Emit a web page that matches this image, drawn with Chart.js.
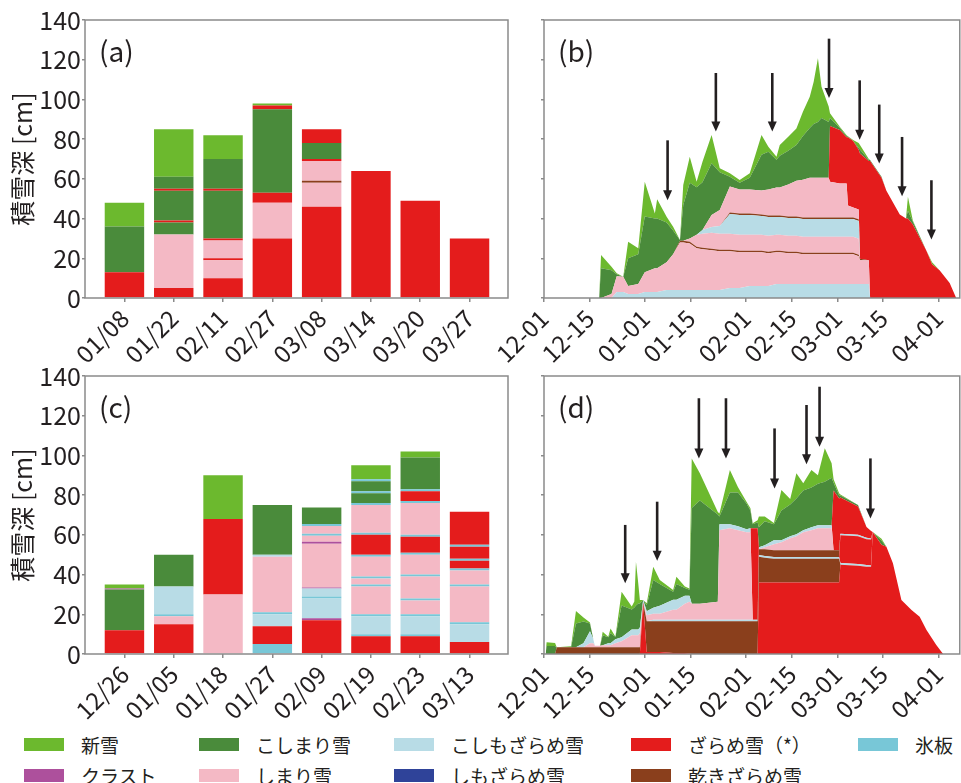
<!DOCTYPE html>
<html>
<head>
<meta charset="utf-8">
<script src="https://cdn.jsdelivr.net/npm/chart.js@4.4.1/dist/chart.umd.min.js"></script>
<style>
  body { margin: 0; background: #fff; width: 961px; height: 783px; position: relative; overflow: hidden;
         font-family: 'Noto Sans CJK JP', sans-serif; color: #231f20; }
  canvas { position: absolute; }
  .lg-item { position: absolute; height: 13px; display: flex; align-items: center; white-space: nowrap; }
  .lg-sw { width: 40px; height: 13px; margin-right: 17px; }
  .lg-tx { font-size: 19px; line-height: 13px; }
</style>
</head>
<body>
<canvas id="chartA" width="520" height="370" style="left:0;top:0"></canvas>
<canvas id="chartB" width="521" height="370" style="left:440px;top:0"></canvas>
<canvas id="chartC" width="520" height="370" style="left:0;top:356px"></canvas>
<canvas id="chartD" width="521" height="370" style="left:440px;top:356px"></canvas>
<div id="legend"></div>
<script>
// ── snow grain types ──
const COLORS = {
  SN: '#6cb92e', KS: '#4a8b3b', KZ: '#b8dce6', ZA: '#e41c1c', IC: '#78c7d7',
  CR: '#ad509c', SH: '#f4b9c5', SZ: '#2f4399', DZ: '#8a3f1c',
};
const TYPE_NAMES = {
  SN: '新雪', KS: 'こしまり雪', KZ: 'こしもざらめ雪', ZA: 'ざらめ雪（*）', IC: '氷板',
  CR: 'クラスト', SH: 'しまり雪', SZ: 'しもざらめ雪', DZ: '乾きざらめ雪',
};
const legendRow1 = ['SN', 'KS', 'KZ', 'ZA', 'IC'];
const legendRow2 = ['CR', 'SH', 'SZ', 'DZ'];

// ── (a) pit profiles, bottom to top: [type, thickness cm] ──
const datesA = ['01/08', '01/22', '02/11', '02/27', '03/08', '03/14', '03/20', '03/27'];
const profA0108 = [['ZA', 13], ['KS', 23], ['SN', 12]];
const profA0122 = [['ZA', 5], ['SH', 27], ['KS', 6], ['ZA', 1], ['KS', 15], ['ZA', 1], ['KS', 6], ['SN', 24]];
const profA0211 = [['ZA', 10], ['SH', 9], ['ZA', 1], ['SH', 9], ['ZA', 1], ['KS', 24], ['ZA', 1], ['KS', 15], ['SN', 12]];
const profA0227 = [['ZA', 30], ['SH', 18], ['ZA', 5], ['KS', 42], ['ZA', 2], ['SN', 1]];
const profA0308 = [['ZA', 46], ['SH', 12], ['DZ', 1], ['SH', 10], ['ZA', 1], ['KS', 8], ['ZA', 7]];
const profA0314 = [['ZA', 64]];
const profA0320 = [['ZA', 49]];
const profA0327 = [['ZA', 30]];

// ── (c) pit profiles ──
const datesC = ['12/26', '01/05', '01/18', '01/27', '02/09', '02/19', '02/23', '03/13'];
const profC1226 = [['ZA', 12], ['KS', 20.5], ['CR', 0.5], ['SN', 2]];
const profC0105 = [['ZA', 15], ['SH', 4], ['IC', 1], ['KZ', 14], ['KS', 16]];
const profC0118 = [['SH', 30], ['ZA', 38], ['SN', 22]];
const profC0127 = [['IC', 5], ['ZA', 9], ['KZ', 6], ['IC', 1], ['SH', 28], ['KZ', 1], ['KS', 25]];
const profC0209 = [['ZA', 17], ['CR', 1], ['KZ', 10], ['IC', 1], ['KZ', 4], ['CR', 0.5], ['SH', 22], ['CR', 1],
  ['SH', 3], ['IC', 1], ['SH', 4], ['IC', 1], ['KS', 8.3]];
const profC0219 = [['ZA', 9], ['IC', 1], ['KZ', 9], ['IC', 1], ['SH', 14], ['IC', 1], ['SH', 3], ['IC', 1],
  ['SH', 10], ['IC', 1], ['ZA', 10], ['IC', 1], ['SH', 14], ['IC', 1], ['KS', 5], ['IC', 1], ['KS', 5], ['IC', 1], ['SN', 7]];
const profC0223 = [['ZA', 9], ['IC', 1], ['KZ', 9], ['IC', 1], ['SH', 7], ['IC', 1], ['SH', 11], ['IC', 1],
  ['SH', 10], ['IC', 1], ['ZA', 8], ['IC', 1], ['SH', 16], ['IC', 1], ['ZA', 5], ['IC', 1], ['KS', 16], ['SN', 3]];
const profC0313 = [['ZA', 6], ['KZ', 9], ['IC', 1], ['SH', 18], ['IC', 1], ['SH', 7], ['IC', 1], ['ZA', 4],
  ['IC', 1], ['ZA', 6], ['IC', 1], ['ZA', 16.6]];

// ── (b) simulated layer thickness [cm], days since 12-01 ──
const daysB = [16.9, 17.5, 20.7, 22.3, 24.3, 25.8, 28.9, 30.9, 34.0, 34.7,
  37.6, 39.6, 41.7, 42.7, 44.7, 46.8, 48.6, 51.4, 53.9, 57.0,
  60.0, 63.1, 66.7, 68.8, 71.3, 72.3, 74.9, 77.4, 79.4, 81.5,
  82.7, 84.0, 85.1, 87.3, 87.7, 90.7, 92.8, 93.2, 94.8, 96.5,
  96.9, 99.6, 100.0, 103.5, 105.0, 109.1, 111.0, 111.6, 113.1, 117.2,
  119.0, 121.3, 124.4, 126.4];
const bKz1 = [0, 0, 0, 3, 3, 2, 2, 3, 3, 3, 4, 4, 4, 4, 4, 4, 4, 4, 4, 5, 5, 6, 6, 6, 7, 7, 7, 7, 7, 7,
  7, 7, 7, 7, 7, 7, 7, 7, 7, 7, 7, 7, 0, 0, 0, 0, 0, 0, 0, 0, 0, 0, 0, 0];
const bSh1 = [0, 0, 2, 8, 7.7, 4, 5, 10, 12, 12, 14, 18, 24, 24, 23.5, 21, 20.5, 20, 19.5, 18.5,
  18, 17, 17, 16.5, 16, 16, 15.5, 15.5, 15, 15, 15, 15, 15, 15, 15, 15, 15, 15, 15, 14,
  12, 12, 0, 0, 0, 0, 0, 0, 0, 0, 0, 0, 0, 0];
const bDz1 = [0, 0, 0, 0, 0, 0, 0, 0, 0, 0, 0, 0, 0.8, 0.8, 0.8, 0.8, 0.8, 0.8, 0.8, 0.8,
  0.8, 0.8, 0.8, 0.8, 0.8, 0.8, 0.8, 0.8, 0.8, 0.8, 0.8, 0.8, 0.8, 0.8, 0.8, 0.8, 0.8, 0.8, 0.8, 0.8,
  0.8, 0, 0, 0, 0, 0, 0, 0, 0, 0, 0, 0, 0, 0];
const bSh2 = [0, 0, 0, 0, 0, 0, 0, 0, 0, 0, 0, 0, 0, 0, 1.7, 6, 7, 8, 8, 8,
  8, 8, 8, 8, 8, 8, 8, 8, 8, 8, 8, 8, 8, 8, 8, 8, 8, 8, 8, 8,
  0, 0, 0, 0, 0, 0, 0, 0, 0, 0, 0, 0, 0, 0];
const bKz2 = [0, 0, 0, 0, 0, 0, 0, 0, 0, 0, 0, 0, 0, 0, 0, 0, 2, 3, 4, 10,
  10, 10, 9.5, 9.5, 9, 9, 9, 9, 9, 9, 9, 9, 9, 9, 9, 9, 9, 9, 9, 9,
  0, 0, 0, 0, 0, 0, 0, 0, 0, 0, 0, 0, 0, 0];
const bDz2 = [0, 0, 0, 0, 0, 0, 0, 0, 0, 0, 0, 0, 0, 0, 0, 0, 0, 0, 0, 0.8,
  0.8, 0.8, 0.8, 0.8, 0.8, 0.8, 0.8, 0.8, 0.8, 0.8, 0.8, 0.8, 0.8, 0.8, 0.8, 0.8, 0.8, 0.8, 0.8, 0.8,
  0, 0, 0, 0, 0, 0, 0, 0, 0, 0, 0, 0, 0, 0];
const bSh3 = [0, 0, 0, 0, 0, 0, 0, 0, 0, 0, 0, 0, 0, 0, 0, 0, 0, 6, 8, 13,
  12, 12, 12, 13, 14, 14, 16, 18, 19, 20, 20, 20, 20, 20, 18, 17, 17, 6, 5, 5,
  0, 0, 0, 0, 0, 0, 0, 0, 0, 0, 0, 0, 0, 0];
const bZa = [0, 0, 0, 0, 0, 0, 0, 0, 0, 0, 0, 0, 0, 0, 0, 0, 0, 0, 0, 0,
  0, 0, 0, 0, 0, 0, 0, 0, 0, 0, 0, 0, 0, 0, 28, 27, 23.4, 34.4, 33.5, 30,
  53, 50, 69, 60.5, 54, 42, 40, 40, 37, 24, 17, 14, 7.5, 0];
const bKs = [0, 15, 12, 1, 0, 14, 15, 28, 25, 25, 20, 12, 0.4, 18, 28, 24, 24, 26, 19, 5,
  3.5, 6, 18, 19, 14, 16, 17, 18, 22, 25, 27, 28, 30, 28, 4, 1, 0.5, 0.3, 0, 1,
  2, 0.5, 0.5, 0.5, 0, 0, 0, 4, 1.5, 0, 0, 0, 0, 0];
const bSn = [0, 6.6, 1.8, 0.5, 0, 8.3, 3, 17.6, 2.6, 9.7, 2.9, 1.9, 0, 10.1, 13.1, 2.8, 10.3, 14.3, 2, 1.7,
  1.3, 2.2, 10, 2.6, 1.5, 5.4, 7.1, 8.3, 12.2, 15.8, 21.3, 32.1, 15.8, 7.8, 2.4, 0.7, 0.5, 0.2, 0.5, 2.4,
  2.2, 0.5, 0, 0, 0, 0, 0, 7, 0.5, 0, 1, 0, 0, 0];
const bandsB = [['KZ', bKz1], ['SH', bSh1], ['DZ', bDz1], ['SH', bSh2], ['KZ', bKz2], ['DZ', bDz2],
  ['SH', bSh3], ['ZA', bZa], ['KS', bKs], ['SN', bSn]];
const arrowDaysB = [37.9, 52.7, 70.0, 87.4, 96.8, 102.8, 109.8, 118.8];
const arrowTopB = [79.4, 113.3, 113.3, 130.6, 109.6, 97.4, 81.1, 59.3];
const arrowTipB = [49.2, 83.9, 83.9, 100.7, 79.7, 67.7, 51.2, 29.4];

// ── (d) simulated layer thickness [cm] ──
const daysD = [0.5, 0.8, 3.4, 3.9, 8.3, 9.8, 12.1, 14.1, 15.1, 15.6,
  17.2, 18.0, 19.7, 20.4, 21.9, 23.8, 26.9, 27.7, 28.2, 28.9,
  29.4, 30.4, 31.5, 33.5, 35.5, 39.6, 40.6, 43.2, 44.6, 45.3,
  47.8, 53.3, 53.8, 57.0, 59.5, 62.1, 63.3, 64.0, 65.5, 65.9,
  67.7, 70.5, 72.8, 75.5, 77.4, 79.5, 82.0, 84.0, 86.1, 88.2,
  88.8, 90.5, 90.9, 96.3, 98.9, 100.3, 100.8, 103.5, 105.0, 107.0,
  109.6, 112.7, 115.2, 117.3, 120.3, 122.4];
const dZa1 = [0, 0, 0, 0, 0, 0, 0, 0, 0, 0, 0, 0, 0, 0, 0, 0, 0, 0, 0, 0,
  0, 26, 1, 1, 1, 0.5, 0.5, 0.5, 0.3, 0, 0, 0, 0, 0, 0, 0, 0, 0, 0, 36,
  36, 36, 36, 36, 36, 36, 36, 36, 36, 36, 36, 36, 45, 44.5, 44, 44, 61.5, 55, 54, 45.7,
  27.2, 22.2, 18.8, 12.1, 4.5, 0];
const dDz1 = [0, 0, 0, 3.4, 3.4, 3.4, 3.4, 3.4, 3.4, 3.4, 3.4, 3.4, 3.4, 3.4, 3.4, 3.4, 3.4, 3.4, 3.4, 3.4,
  3.4, 0, 15.5, 15.5, 15.5, 16, 16, 16, 16.2, 16.5, 16.5, 16.5, 16.5, 16.5, 16.5, 16.5, 16.5, 16.5, 16.5, 13,
  12.5, 12, 12, 12, 12, 12, 12, 12, 12, 12, 12, 12, 0, 0, 0, 0, 0, 0, 0, 0,
  0, 0, 0, 0, 0, 0];
const dKz1 = [0, 0, 0, 0, 0, 0, 0, 0, 0, 0, 0, 0, 0, 0, 0, 0, 0, 0, 0, 0,
  0, 0, 0, 0.8, 0.8, 0.8, 0.8, 0.8, 0.8, 0.8, 0.8, 0.8, 0.8, 0.8, 0.8, 0.8, 0.8, 0.8, 0.8, 0.8,
  0.8, 0.8, 0.8, 0.8, 0.8, 0.8, 0.8, 0.8, 0.8, 0.8, 0.8, 0.8, 0.8, 0.8, 0.8, 0.6, 0, 0, 0, 0,
  0, 0, 0, 0, 0, 0];
const dZa3 = [0, 0, 0, 0, 0, 0, 0, 0, 0, 0, 0, 0, 0, 0, 0, 0, 0, 0, 0, 0,
  0, 0, 0, 0, 0, 0, 0, 0, 0, 0, 0, 0, 0, 0, 0, 0, 0, 0, 0, 0,
  0, 0, 0, 0, 0, 0, 0, 0, 0, 0, 0, 0, 14, 14, 13, 13, 0, 0, 0, 0,
  0, 0, 0, 0, 0, 0];
const dDz2 = [0, 0, 0, 0, 0, 0, 0, 0, 0, 0, 0, 0, 0, 0, 0, 0, 0, 0, 0, 0,
  0, 0, 0, 0, 0, 0, 0, 0, 0, 0, 0, 0, 0, 0, 0, 0, 0, 0, 0, 3,
  3.5, 3.5, 3.5, 3.5, 3.5, 3.5, 3.5, 3.5, 3.5, 3.5, 3.5, 3.5, 0, 0, 0, 0, 0, 0, 0, 0,
  0, 0, 0, 0, 0, 0];
const dSh1 = [0, 0, 0, 0, 0, 0, 0, 2, 2, 0.8, 0.8, 1, 1, 1, 2, 3, 6, 6, 6, 6,
  7, 0, 3, 3, 3, 5, 5, 8, 9, 8, 8, 9, 45, 46, 45, 44, 44, 0, 0, 0,
  1, 3, 4, 6, 7, 9, 10, 11, 11, 11, 0, 0, 0, 0, 0, 0, 0, 0, 0, 0,
  0, 0, 0, 0, 0, 0];
const dKz2 = [0, 0, 0, 0, 0, 0, 2, 6, 2.1, 0, 0, 0, 1, 1, 2, 2, 3, 3, 3, 3,
  3, 1.2, 2, 3, 4, 5, 5, 4, 3, 0, 0, 0, 3, 2, 2, 1.5, 2, 0, 0, 1,
  1, 2, 1, 1, 1, 1, 1.5, 1.5, 1.5, 1.5, 0, 0, 0.8, 0.8, 0.8, 0.6, 0, 0, 0, 0,
  0, 0, 0, 0, 0, 0];
const dZa2 = [0, 0, 0, 0, 0, 0, 0, 0, 0, 0, 0, 0, 0, 0, 0, 0, 0, 0, 0, 0,
  0, 0, 0, 0, 0, 0, 0, 0, 0, 0, 0, 0, 0, 0, 0, 0, 0, 46, 46, 0,
  0, 0, 0, 0, 0, 0, 0, 0, 0, 0, 30, 26, 18.2, 14.2, 5.4, 3.8, 0, 0, 0, 0,
  0, 0, 0, 0, 0, 0];
const dKs = [0, 4, 4, 0, 0, 12, 11, 4, 0, 0, 0, 5, 3, 5, 1.3, 16, 10, 11, 12, 13,
  12, 0, 3, 14, 11, 4, 8, 4, 3, 48.2, 52, 44, 4, 16, 17, 13, 9, 2, 3, 10,
  12, 8, 15, 16, 18, 20, 20, 21, 22, 24, 4, 1.5, 1, 0.7, 0, 0, 0, 2, 0, 0,
  0, 0, 0, 0, 0, 0];
const dSn = [0, 1.9, 1.5, 0, 0.5, 6.3, 2, 0.5, 0, 0, 0, 1.8, 0.3, 2.5, 0, 7, 1.5, 3, 22.1, 10.2,
  1.8, 0, 1, 6.7, 2, 0.9, 3.6, 0.7, 0.7, 25, 13.7, 1.2, 1.5, 11.4, 2.7, 0.9, 1.1, 0.5, 1, 5.4,
  2.4, 0.7, 10.3, 2.7, 12.7, 3.7, 8.9, 4.2, 16.8, 7.2, 1.7, 1.2, 0.5, 0, 0, 0, 0, 1, 0, 0,
  0, 0, 0, 0, 0, 0];
const bandsD = [['ZA', dZa1], ['DZ', dDz1], ['KZ', dKz1], ['ZA', dZa3], ['DZ', dDz2], ['SH', dSh1],
  ['KZ', dKz2], ['ZA', dZa2], ['KS', dKs], ['SN', dSn]];
const arrowDaysD = [24.9, 34.7, 47.5, 55.8, 70.7, 80.5, 84.5, 100.1];
const arrowTopD = [65, 76.7, 128.8, 128.8, 113.6, 125.4, 134.6, 98.5];
const arrowTipD = [35.6, 47, 98.5, 98.5, 83.4, 95.5, 104.4, 68.3];

const tickDays = [0, 14, 31, 45, 62, 76, 90, 104, 121];
const tickDayLabels = ['12-01', '12-15', '01-01', '01-15', '02-01', '02-15', '03-01', '03-15', '04-01'];

// ──────────────────────────────────────────────
const TEXT = '#231f20';
const AXIS = '#8a8a8a';
Chart.defaults.font.family = "'Noto Sans CJK JP', 'Noto Sans', sans-serif";
Chart.defaults.color = TEXT;

const panelDecor = {
  id: 'panelDecor',
  afterDatasetsDraw(chart, args, opts) {
    if (!opts.arrowDays) return;
    const { ctx, scales } = chart;
    ctx.save();
    ctx.fillStyle = TEXT;
    ctx.strokeStyle = TEXT;
    ctx.lineWidth = 2.6;
    opts.arrowDays.forEach((d, i) => {
      const x = scales.x.getPixelForValue(d);
      const y0 = scales.y.getPixelForValue(opts.arrowTop[i]);
      const y1 = scales.y.getPixelForValue(opts.arrowTip[i]);
      ctx.beginPath(); ctx.moveTo(x, y0); ctx.lineTo(x, y1 - 8); ctx.stroke();
      ctx.beginPath(); ctx.moveTo(x - 4.5, y1 - 10); ctx.lineTo(x + 4.5, y1 - 10); ctx.lineTo(x, y1);
      ctx.closePath(); ctx.fill();
    });
    ctx.restore();
  },
  afterDraw(chart, args, opts) {
    const { ctx, chartArea: a } = chart;
    ctx.save();
    ctx.strokeStyle = AXIS;
    ctx.lineWidth = 1.5;
    ctx.strokeRect(a.left, a.top, a.right - a.left, a.bottom - a.top);
    ctx.fillStyle = TEXT;
    ctx.font = "28px 'Noto Sans CJK JP', sans-serif";
    ctx.textBaseline = 'middle';
    ctx.fillText(opts.label, a.left + 14, a.top + 31);
    ctx.restore();
  },
};

function yAxis(showLabels) {
  return {
    min: 0, max: 140, stacked: true,
    border: { display: false },
    grid: { drawOnChartArea: false, tickLength: 3, color: AXIS, lineWidth: 1.5 },
    ticks: { display: showLabels, stepSize: 20, padding: 1, color: TEXT, font: { size: 25 } },
    title: { display: showLabels, text: '積雪深 [cm]', color: TEXT, font: { size: 25 }, padding: { top: 7, bottom: 0 } },
    afterFit(s) { s.width = showLabels ? 85 : 104; },
  };
}

function barChart(id, label, dates, profiles) {
  const n = Math.max(...profiles.map(p => p.length));
  const datasets = [];
  for (let i = 0; i < n; i++) {
    datasets.push({
      data: profiles.map((p, j) => ({ x: j, y: p[i] ? p[i][1] : 0 })),
      backgroundColor: profiles.map(p => p[i] ? COLORS[p[i][0]] : 'rgba(0,0,0,0)'),
      borderWidth: 0,
      barPercentage: 0.8,
      categoryPercentage: 1,
    });
  }
  return new Chart(document.getElementById(id), {
    type: 'bar',
    data: { datasets },
    plugins: [panelDecor],
    options: {
      responsive: false, animation: false, devicePixelRatio: 1,
      layout: { padding: { top: 20, right: 12, left: 0, bottom: 0 } },
      scales: {
        x: {
          type: 'linear', min: -0.8, max: 7.78, stacked: true, offset: false,
          border: { display: false },
          grid: { offset: false, drawOnChartArea: false, tickLength: 4, color: AXIS, lineWidth: 1.5 },
          afterBuildTicks(s) { s.ticks = dates.map((_, i) => ({ value: i })); },
          ticks: { autoSkip: false, minRotation: 45, maxRotation: 45, padding: 2, color: TEXT, font: { size: 24 },
                   callback: v => dates[v] },
          afterFit(s) { s.height = 72; },
        },
        y: yAxis(true),
      },
      plugins: { legend: { display: false }, tooltip: { enabled: false }, panelDecor: { label } },
    },
  });
}

function layerChart(id, label, days, bands, arrowDays, arrowTop, arrowTip) {
  const datasets = bands.map(([type, vals], i) => ({
    data: days.map((d, j) => ({ x: d, y: vals[j] })),
    backgroundColor: COLORS[type],
    borderWidth: 0, pointRadius: 0, tension: 0,
    fill: i === 0 ? 'origin' : '-1',
  }));
  return new Chart(document.getElementById(id), {
    type: 'line',
    data: { datasets },
    plugins: [panelDecor],
    options: {
      responsive: false, animation: false, devicePixelRatio: 1,
      layout: { padding: { top: 20, right: 1, left: 0, bottom: 0 } },
      scales: {
        x: {
          type: 'linear', min: 0, max: 127.5,
          border: { display: false },
          grid: { drawOnChartArea: false, tickLength: 4, color: AXIS, lineWidth: 1.5 },
          afterBuildTicks(s) { s.ticks = tickDays.map(v => ({ value: v })); },
          ticks: { autoSkip: false, minRotation: 45, maxRotation: 45, padding: 2, color: TEXT, font: { size: 24 },
                   callback: v => tickDayLabels[tickDays.indexOf(v)] },
          afterFit(s) { s.height = 72; },
        },
        y: yAxis(false),
      },
      plugins: {
        legend: { display: false }, tooltip: { enabled: false },
        panelDecor: { label, arrowDays, arrowTop, arrowTip },
      },
    },
  });
}

barChart('chartA', '(a)', datesA,
  [profA0108, profA0122, profA0211, profA0227, profA0308, profA0314, profA0320, profA0327]);
layerChart('chartB', '(b)', daysB, bandsB, arrowDaysB, arrowTopB, arrowTipB);
barChart('chartC', '(c)', datesC,
  [profC1226, profC0105, profC0118, profC0127, profC0209, profC0219, profC0223, profC0313]);
layerChart('chartD', '(d)', daysD, bandsD, arrowDaysD, arrowTopD, arrowTipD);

// legend
const legendCols = [24, 199, 394, 631, 858];
const legendRows = [738, 769];
const legend = document.getElementById('legend');
[legendRow1, legendRow2].forEach((row, r) => {
  row.forEach((key, c) => {
    const item = document.createElement('div');
    item.className = 'lg-item';
    item.style.left = legendCols[c] + 'px';
    item.style.top = legendRows[r] + 'px';
    const sw = document.createElement('div');
    sw.className = 'lg-sw';
    sw.style.background = COLORS[key];
    const tx = document.createElement('span');
    tx.className = 'lg-tx';
    tx.textContent = TYPE_NAMES[key];
    item.appendChild(sw);
    item.appendChild(tx);
    legend.appendChild(item);
  });
});
</script>
</body>
</html>
